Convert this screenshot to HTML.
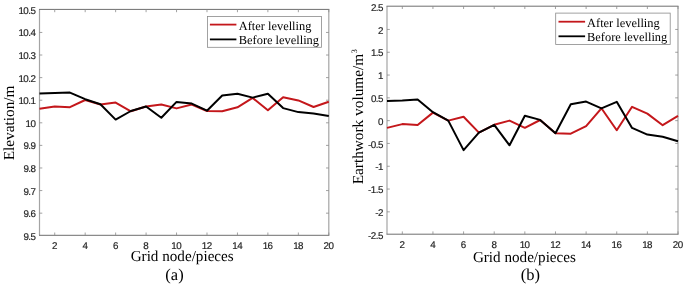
<!DOCTYPE html>
<html><head><meta charset="utf-8"><style>
html,body{margin:0;padding:0;background:#fff;}
svg{display:block;will-change:transform;text-rendering:geometricPrecision;}
.tk{font-family:"Liberation Sans",sans-serif;font-size:9.8px;fill:#1e1e1e;stroke:#1e1e1e;stroke-width:0.18px;letter-spacing:-0.5px;}
.lb{font-family:"Liberation Serif",serif;font-size:15px;fill:#000;}
.ylb{font-size:15.3px;}
.xlb{font-size:15.15px;}
.cap{font-size:16.5px;}
.lg{font-family:"Liberation Serif",serif;font-size:12.4px;fill:#000;}
</style></head><body>
<svg width="685" height="285" viewBox="0 0 685 285">
<rect width="685" height="285" fill="#fff"/>
<line x1="39.5" y1="9.4" x2="39.5" y2="235.3" stroke="#a4a4a4" stroke-width="1.2"/>
<line x1="328.8" y1="9.4" x2="328.8" y2="235.3" stroke="#a4a4a4" stroke-width="1.2"/>
<line x1="39.0" y1="9.4" x2="329.3" y2="9.4" stroke="#6e6e6e" stroke-width="1"/>
<line x1="39.0" y1="235.3" x2="329.3" y2="235.3" stroke="#6e6e6e" stroke-width="1"/>
<line x1="54.73" y1="235.3" x2="54.73" y2="232.5" stroke="#8a8a8a" stroke-width="0.8"/>
<line x1="54.73" y1="9.4" x2="54.73" y2="12.2" stroke="#8a8a8a" stroke-width="0.8"/>
<text x="54.48" y="248.90" text-anchor="middle" class="tk">2</text>
<line x1="85.18" y1="235.3" x2="85.18" y2="232.5" stroke="#8a8a8a" stroke-width="0.8"/>
<line x1="85.18" y1="9.4" x2="85.18" y2="12.2" stroke="#8a8a8a" stroke-width="0.8"/>
<text x="84.93" y="248.90" text-anchor="middle" class="tk">4</text>
<line x1="115.63" y1="235.3" x2="115.63" y2="232.5" stroke="#8a8a8a" stroke-width="0.8"/>
<line x1="115.63" y1="9.4" x2="115.63" y2="12.2" stroke="#8a8a8a" stroke-width="0.8"/>
<text x="115.38" y="248.90" text-anchor="middle" class="tk">6</text>
<line x1="146.08" y1="235.3" x2="146.08" y2="232.5" stroke="#8a8a8a" stroke-width="0.8"/>
<line x1="146.08" y1="9.4" x2="146.08" y2="12.2" stroke="#8a8a8a" stroke-width="0.8"/>
<text x="145.83" y="248.90" text-anchor="middle" class="tk">8</text>
<line x1="176.54" y1="235.3" x2="176.54" y2="232.5" stroke="#8a8a8a" stroke-width="0.8"/>
<line x1="176.54" y1="9.4" x2="176.54" y2="12.2" stroke="#8a8a8a" stroke-width="0.8"/>
<text x="176.29" y="248.90" text-anchor="middle" class="tk">10</text>
<line x1="206.99" y1="235.3" x2="206.99" y2="232.5" stroke="#8a8a8a" stroke-width="0.8"/>
<line x1="206.99" y1="9.4" x2="206.99" y2="12.2" stroke="#8a8a8a" stroke-width="0.8"/>
<text x="206.74" y="248.90" text-anchor="middle" class="tk">12</text>
<line x1="237.44" y1="235.3" x2="237.44" y2="232.5" stroke="#8a8a8a" stroke-width="0.8"/>
<line x1="237.44" y1="9.4" x2="237.44" y2="12.2" stroke="#8a8a8a" stroke-width="0.8"/>
<text x="237.19" y="248.90" text-anchor="middle" class="tk">14</text>
<line x1="267.89" y1="235.3" x2="267.89" y2="232.5" stroke="#8a8a8a" stroke-width="0.8"/>
<line x1="267.89" y1="9.4" x2="267.89" y2="12.2" stroke="#8a8a8a" stroke-width="0.8"/>
<text x="267.64" y="248.90" text-anchor="middle" class="tk">16</text>
<line x1="298.35" y1="235.3" x2="298.35" y2="232.5" stroke="#8a8a8a" stroke-width="0.8"/>
<line x1="298.35" y1="9.4" x2="298.35" y2="12.2" stroke="#8a8a8a" stroke-width="0.8"/>
<text x="298.10" y="248.90" text-anchor="middle" class="tk">18</text>
<line x1="328.80" y1="235.3" x2="328.80" y2="232.5" stroke="#8a8a8a" stroke-width="0.8"/>
<line x1="328.80" y1="9.4" x2="328.80" y2="12.2" stroke="#8a8a8a" stroke-width="0.8"/>
<text x="328.55" y="248.90" text-anchor="middle" class="tk">20</text>
<text x="35.50" y="13.90" text-anchor="end" class="tk">10.5</text>
<line x1="39.5" y1="32.44" x2="42.3" y2="32.44" stroke="#8a8a8a" stroke-width="0.8"/>
<line x1="328.8" y1="32.44" x2="326.0" y2="32.44" stroke="#8a8a8a" stroke-width="0.8"/>
<text x="35.50" y="36.49" text-anchor="end" class="tk">10.4</text>
<line x1="39.5" y1="55.03" x2="42.3" y2="55.03" stroke="#8a8a8a" stroke-width="0.8"/>
<line x1="328.8" y1="55.03" x2="326.0" y2="55.03" stroke="#8a8a8a" stroke-width="0.8"/>
<text x="35.50" y="59.08" text-anchor="end" class="tk">10.3</text>
<line x1="39.5" y1="77.62" x2="42.3" y2="77.62" stroke="#8a8a8a" stroke-width="0.8"/>
<line x1="328.8" y1="77.62" x2="326.0" y2="77.62" stroke="#8a8a8a" stroke-width="0.8"/>
<text x="35.50" y="81.67" text-anchor="end" class="tk">10.2</text>
<line x1="39.5" y1="100.21" x2="42.3" y2="100.21" stroke="#8a8a8a" stroke-width="0.8"/>
<line x1="328.8" y1="100.21" x2="326.0" y2="100.21" stroke="#8a8a8a" stroke-width="0.8"/>
<text x="35.50" y="104.26" text-anchor="end" class="tk">10.1</text>
<line x1="39.5" y1="122.80" x2="42.3" y2="122.80" stroke="#8a8a8a" stroke-width="0.8"/>
<line x1="328.8" y1="122.80" x2="326.0" y2="122.80" stroke="#8a8a8a" stroke-width="0.8"/>
<text x="35.50" y="126.85" text-anchor="end" class="tk">10</text>
<line x1="39.5" y1="145.39" x2="42.3" y2="145.39" stroke="#8a8a8a" stroke-width="0.8"/>
<line x1="328.8" y1="145.39" x2="326.0" y2="145.39" stroke="#8a8a8a" stroke-width="0.8"/>
<text x="35.50" y="149.44" text-anchor="end" class="tk">9.9</text>
<line x1="39.5" y1="167.98" x2="42.3" y2="167.98" stroke="#8a8a8a" stroke-width="0.8"/>
<line x1="328.8" y1="167.98" x2="326.0" y2="167.98" stroke="#8a8a8a" stroke-width="0.8"/>
<text x="35.50" y="172.03" text-anchor="end" class="tk">9.8</text>
<line x1="39.5" y1="190.57" x2="42.3" y2="190.57" stroke="#8a8a8a" stroke-width="0.8"/>
<line x1="328.8" y1="190.57" x2="326.0" y2="190.57" stroke="#8a8a8a" stroke-width="0.8"/>
<text x="35.50" y="194.62" text-anchor="end" class="tk">9.7</text>
<line x1="39.5" y1="213.16" x2="42.3" y2="213.16" stroke="#8a8a8a" stroke-width="0.8"/>
<line x1="328.8" y1="213.16" x2="326.0" y2="213.16" stroke="#8a8a8a" stroke-width="0.8"/>
<text x="35.50" y="217.21" text-anchor="end" class="tk">9.6</text>
<text x="35.50" y="239.80" text-anchor="end" class="tk">9.5</text>
<polyline points="39.50,108.80 54.73,106.60 69.95,107.20 85.18,100.00 100.41,104.50 115.63,102.60 130.86,111.30 146.08,106.50 161.31,104.50 176.54,108.40 191.76,104.50 206.99,111.00 222.22,111.20 237.44,107.30 252.67,97.90 267.89,110.30 283.12,97.20 298.35,100.40 313.57,107.00 328.80,101.80" fill="none" stroke="#c4171b" stroke-width="2.0" stroke-linejoin="round"/>
<polyline points="39.50,93.60 54.73,93.10 69.95,92.60 85.18,99.20 100.41,104.20 115.63,119.60 130.86,111.00 146.08,106.50 161.31,117.70 176.54,101.90 191.76,103.60 206.99,110.70 222.22,95.50 237.44,93.80 252.67,97.60 267.89,93.80 283.12,108.10 298.35,112.10 313.57,113.40 328.80,116.00" fill="none" stroke="#000" stroke-width="2.0" stroke-linejoin="round"/>
<rect x="207.4" y="16.4" width="114.20" height="30.90" fill="#fff" stroke="#8a8a8a" stroke-width="0.8"/>
<line x1="209.9" y1="24.6" x2="236.4" y2="24.6" stroke="#c4171b" stroke-width="1.8"/>
<line x1="209.9" y1="39.4" x2="236.4" y2="39.4" stroke="#000" stroke-width="1.8"/>
<text x="238.8" y="29.6" class="lg">After levelling</text>
<text x="238.8" y="43.9" class="lg">Before levelling</text>
<text x="182.2" y="261.3" text-anchor="middle" class="lb xlb">Grid node/pieces</text>
<text x="174.5" y="280.0" text-anchor="middle" class="lb cap">(a)</text>
<text transform="translate(13.5,160.3) rotate(-90)" class="lb ylb">Elevation/m</text>
<line x1="387.0" y1="6.2" x2="387.0" y2="234.2" stroke="#a4a4a4" stroke-width="1.2"/>
<line x1="678.0" y1="6.2" x2="678.0" y2="234.2" stroke="#a4a4a4" stroke-width="1.2"/>
<line x1="386.5" y1="6.2" x2="678.5" y2="6.2" stroke="#6e6e6e" stroke-width="1"/>
<line x1="386.5" y1="234.2" x2="678.5" y2="234.2" stroke="#6e6e6e" stroke-width="1"/>
<line x1="402.32" y1="234.2" x2="402.32" y2="231.39999999999998" stroke="#8a8a8a" stroke-width="0.8"/>
<line x1="402.32" y1="6.2" x2="402.32" y2="9.0" stroke="#8a8a8a" stroke-width="0.8"/>
<text x="402.07" y="247.80" text-anchor="middle" class="tk">2</text>
<line x1="432.95" y1="234.2" x2="432.95" y2="231.39999999999998" stroke="#8a8a8a" stroke-width="0.8"/>
<line x1="432.95" y1="6.2" x2="432.95" y2="9.0" stroke="#8a8a8a" stroke-width="0.8"/>
<text x="432.70" y="247.80" text-anchor="middle" class="tk">4</text>
<line x1="463.58" y1="234.2" x2="463.58" y2="231.39999999999998" stroke="#8a8a8a" stroke-width="0.8"/>
<line x1="463.58" y1="6.2" x2="463.58" y2="9.0" stroke="#8a8a8a" stroke-width="0.8"/>
<text x="463.33" y="247.80" text-anchor="middle" class="tk">6</text>
<line x1="494.21" y1="234.2" x2="494.21" y2="231.39999999999998" stroke="#8a8a8a" stroke-width="0.8"/>
<line x1="494.21" y1="6.2" x2="494.21" y2="9.0" stroke="#8a8a8a" stroke-width="0.8"/>
<text x="493.96" y="247.80" text-anchor="middle" class="tk">8</text>
<line x1="524.84" y1="234.2" x2="524.84" y2="231.39999999999998" stroke="#8a8a8a" stroke-width="0.8"/>
<line x1="524.84" y1="6.2" x2="524.84" y2="9.0" stroke="#8a8a8a" stroke-width="0.8"/>
<text x="524.59" y="247.80" text-anchor="middle" class="tk">10</text>
<line x1="555.47" y1="234.2" x2="555.47" y2="231.39999999999998" stroke="#8a8a8a" stroke-width="0.8"/>
<line x1="555.47" y1="6.2" x2="555.47" y2="9.0" stroke="#8a8a8a" stroke-width="0.8"/>
<text x="555.22" y="247.80" text-anchor="middle" class="tk">12</text>
<line x1="586.11" y1="234.2" x2="586.11" y2="231.39999999999998" stroke="#8a8a8a" stroke-width="0.8"/>
<line x1="586.11" y1="6.2" x2="586.11" y2="9.0" stroke="#8a8a8a" stroke-width="0.8"/>
<text x="585.86" y="247.80" text-anchor="middle" class="tk">14</text>
<line x1="616.74" y1="234.2" x2="616.74" y2="231.39999999999998" stroke="#8a8a8a" stroke-width="0.8"/>
<line x1="616.74" y1="6.2" x2="616.74" y2="9.0" stroke="#8a8a8a" stroke-width="0.8"/>
<text x="616.49" y="247.80" text-anchor="middle" class="tk">16</text>
<line x1="647.37" y1="234.2" x2="647.37" y2="231.39999999999998" stroke="#8a8a8a" stroke-width="0.8"/>
<line x1="647.37" y1="6.2" x2="647.37" y2="9.0" stroke="#8a8a8a" stroke-width="0.8"/>
<text x="647.12" y="247.80" text-anchor="middle" class="tk">18</text>
<line x1="678.00" y1="234.2" x2="678.00" y2="231.39999999999998" stroke="#8a8a8a" stroke-width="0.8"/>
<line x1="678.00" y1="6.2" x2="678.00" y2="9.0" stroke="#8a8a8a" stroke-width="0.8"/>
<text x="677.75" y="247.80" text-anchor="middle" class="tk">20</text>
<text x="383.00" y="10.70" text-anchor="end" class="tk">2.5</text>
<line x1="387.0" y1="29.45" x2="389.8" y2="29.45" stroke="#8a8a8a" stroke-width="0.8"/>
<line x1="678.0" y1="29.45" x2="675.2" y2="29.45" stroke="#8a8a8a" stroke-width="0.8"/>
<text x="383.00" y="33.50" text-anchor="end" class="tk">2</text>
<line x1="387.0" y1="52.25" x2="389.8" y2="52.25" stroke="#8a8a8a" stroke-width="0.8"/>
<line x1="678.0" y1="52.25" x2="675.2" y2="52.25" stroke="#8a8a8a" stroke-width="0.8"/>
<text x="383.00" y="56.30" text-anchor="end" class="tk">1.5</text>
<line x1="387.0" y1="75.05" x2="389.8" y2="75.05" stroke="#8a8a8a" stroke-width="0.8"/>
<line x1="678.0" y1="75.05" x2="675.2" y2="75.05" stroke="#8a8a8a" stroke-width="0.8"/>
<text x="383.00" y="79.10" text-anchor="end" class="tk">1</text>
<line x1="387.0" y1="97.85" x2="389.8" y2="97.85" stroke="#8a8a8a" stroke-width="0.8"/>
<line x1="678.0" y1="97.85" x2="675.2" y2="97.85" stroke="#8a8a8a" stroke-width="0.8"/>
<text x="383.00" y="101.90" text-anchor="end" class="tk">0.5</text>
<line x1="387.0" y1="120.65" x2="389.8" y2="120.65" stroke="#8a8a8a" stroke-width="0.8"/>
<line x1="678.0" y1="120.65" x2="675.2" y2="120.65" stroke="#8a8a8a" stroke-width="0.8"/>
<text x="383.00" y="124.70" text-anchor="end" class="tk">0</text>
<line x1="387.0" y1="143.45" x2="389.8" y2="143.45" stroke="#8a8a8a" stroke-width="0.8"/>
<line x1="678.0" y1="143.45" x2="675.2" y2="143.45" stroke="#8a8a8a" stroke-width="0.8"/>
<text x="383.00" y="147.50" text-anchor="end" class="tk">-0.5</text>
<line x1="387.0" y1="166.25" x2="389.8" y2="166.25" stroke="#8a8a8a" stroke-width="0.8"/>
<line x1="678.0" y1="166.25" x2="675.2" y2="166.25" stroke="#8a8a8a" stroke-width="0.8"/>
<text x="383.00" y="170.30" text-anchor="end" class="tk">-1</text>
<line x1="387.0" y1="189.05" x2="389.8" y2="189.05" stroke="#8a8a8a" stroke-width="0.8"/>
<line x1="678.0" y1="189.05" x2="675.2" y2="189.05" stroke="#8a8a8a" stroke-width="0.8"/>
<text x="383.00" y="193.10" text-anchor="end" class="tk">-1.5</text>
<line x1="387.0" y1="211.85" x2="389.8" y2="211.85" stroke="#8a8a8a" stroke-width="0.8"/>
<line x1="678.0" y1="211.85" x2="675.2" y2="211.85" stroke="#8a8a8a" stroke-width="0.8"/>
<text x="383.00" y="215.90" text-anchor="end" class="tk">-2</text>
<text x="383.00" y="238.70" text-anchor="end" class="tk">-2.5</text>
<polyline points="387.00,127.90 402.32,124.10 417.63,125.00 432.95,112.60 448.26,120.60 463.58,116.80 478.89,132.60 494.21,124.80 509.53,120.60 524.84,127.80 540.16,120.00 555.47,133.20 570.79,133.70 586.11,126.20 601.42,108.30 616.74,130.20 632.05,106.80 647.37,113.60 662.68,125.20 678.00,115.90" fill="none" stroke="#c4171b" stroke-width="2.0" stroke-linejoin="round"/>
<polyline points="387.00,100.90 402.32,100.50 417.63,99.50 432.95,112.20 448.26,120.60 463.58,150.10 478.89,132.60 494.21,124.80 509.53,145.30 524.84,115.70 540.16,119.90 555.47,133.20 570.79,104.30 586.11,101.60 601.42,108.30 616.74,101.80 632.05,127.90 647.37,134.60 662.68,136.70 678.00,141.20" fill="none" stroke="#000" stroke-width="2.0" stroke-linejoin="round"/>
<rect x="555.7" y="13.1" width="114.50" height="31.40" fill="#fff" stroke="#8a8a8a" stroke-width="0.8"/>
<line x1="558.5" y1="21.7" x2="585.1" y2="21.7" stroke="#c4171b" stroke-width="1.8"/>
<line x1="558.5" y1="36.3" x2="585.1" y2="36.3" stroke="#000" stroke-width="1.8"/>
<text x="587.1" y="26.9" class="lg">After levelling</text>
<text x="587.1" y="40.6" class="lg">Before levelling</text>
<text x="524.4" y="262.3" text-anchor="middle" class="lb xlb">Grid node/pieces</text>
<text x="530.3" y="280.0" text-anchor="middle" class="lb cap">(b)</text>
<text transform="translate(363.0,184.3) rotate(-90)" class="lb ylb">Earthwork volume/m<tspan dx="0.7" dy="-5.8" font-size="8.3">3</tspan></text>
</svg>
</body></html>
